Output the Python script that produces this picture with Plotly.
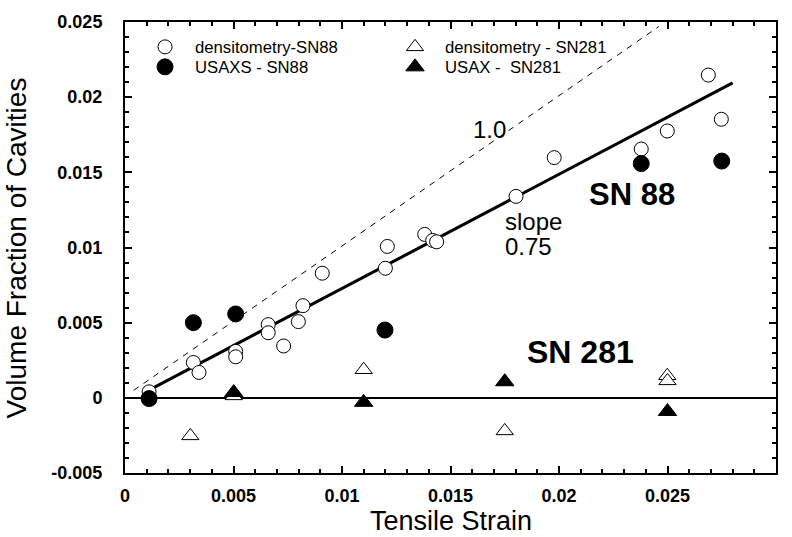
import plotly.graph_objects as go

# Densitometry, sample SN88 (open circles)
dens88_strain = [0.00111, 0.00315, 0.00341, 0.0051, 0.0051, 0.0066, 0.0066, 0.00731,
                 0.00799, 0.0082, 0.00909, 0.012, 0.01209, 0.01381, 0.01418, 0.01436,
                 0.01802, 0.01978, 0.02379, 0.02499, 0.02688, 0.02748]
dens88_vf = [0.0004, 0.00235, 0.00169, 0.00309, 0.00273, 0.00487, 0.00433, 0.00345,
             0.00507, 0.00613, 0.00829, 0.00862, 0.01007, 0.01087, 0.01047, 0.01038,
             0.0134, 0.01598, 0.01655, 0.01775, 0.02147, 0.01853]

# USAXS, sample SN88 (filled circles)
usaxs88_strain = [0.00111, 0.00315, 0.0051, 0.01198, 0.02379, 0.0275]
usaxs88_vf = [-0.00005, 0.005, 0.00558, 0.00451, 0.01558, 0.01575]

# Densitometry, sample SN281 (open triangles)
dens281_strain = [0.00301, 0.00501, 0.011, 0.0175, 0.02499, 0.025]
dens281_vf = [-0.00253, 0.00013, 0.00187, -0.0022, 0.00147, 0.00113]

# USAX, sample SN281 (filled triangles)
usax281_strain = [0.00501, 0.011, 0.0175, 0.025]
usax281_vf = [0.00035, -0.0003, 0.00107, -0.00091]

# Linear fit through SN88 (slope 0.75) and the 1:1 reference line
fit_strain = [0.00115, 0.028]
fit_vf = [0.00055, 0.02095]
unity_strain = [0.0004, 0.0246]
unity_vf = [0.0005, 0.0247]

x_ticks = [0, 0.005, 0.01, 0.015, 0.02, 0.025, 0.03]
x_ticktext = ["0", "0.005", "0.01", "0.015", "0.02", "0.025", "0.03"]
y_ticks = [-0.005, 0, 0.005, 0.01, 0.015, 0.02, 0.025]
y_ticktext = ["-0.005", "0", "0.005", "0.01", "0.015", "0.02", "0.025"]

FONT = "Liberation Sans, Arial, sans-serif"

fig = go.Figure()

fig.add_trace(go.Scatter(x=unity_strain, y=unity_vf, mode="lines",
                         line=dict(color="black", width=1, dash="6px,6px"),
                         showlegend=False, hoverinfo="skip"))
fig.add_trace(go.Scatter(x=fit_strain, y=fit_vf, mode="lines",
                         line=dict(color="black", width=3),
                         showlegend=False, hoverinfo="skip"))

fig.add_trace(go.Scatter(x=dens88_strain, y=dens88_vf, mode="markers",
                         name="densitometry-SN88", legend="legend", legendrank=1,
                         marker=dict(symbol="circle", size=14, color="white",
                                     line=dict(color="black", width=1))))
fig.add_trace(go.Scatter(x=dens281_strain, y=dens281_vf, mode="markers",
                         name="densitometry - SN281", legend="legend", legendrank=2,
                         marker=dict(symbol="triangle-up", size=15, color="white",
                                     line=dict(color="black", width=1))))
fig.add_trace(go.Scatter(x=usaxs88_strain, y=usaxs88_vf, mode="markers",
                         name="USAXS - SN88", legend="legend2", legendrank=1,
                         marker=dict(symbol="circle", size=16, color="black",
                                     line=dict(color="black", width=1))))
fig.add_trace(go.Scatter(x=usax281_strain, y=usax281_vf, mode="markers",
                         name="USAX -  SN281", legend="legend2", legendrank=2,
                         marker=dict(symbol="triangle-up", size=16, color="black",
                                     line=dict(color="black", width=1))))

annotations = [
    dict(x=0.01682, y=0.01787, text="1.0", font=dict(size=24)),
    dict(x=0.01742, y=0.01175, text="slope", xanchor="left", font=dict(size=24)),
    dict(x=0.01742, y=0.01005, text="0.75", xanchor="left", font=dict(size=24)),
    dict(x=0.02336, y=0.01353, text="<b>SN 88</b>", font=dict(size=31)),
    dict(x=0.02097, y=0.00307, text="<b>SN 281</b>", font=dict(size=32)),
]
for a in annotations:
    a.setdefault("xanchor", "center")
    a.update(xref="x", yref="y", showarrow=False, yanchor="middle")
    a["font"].update(family=FONT, color="black")

# axis titles
annotations += [
    dict(x=0.5, y=-0.1064, xref="paper", yref="paper", text="Tensile Strain",
         showarrow=False, xanchor="center", yanchor="middle",
         font=dict(family=FONT, size=27, color="black")),
    dict(x=-0.166, y=0.5, xref="paper", yref="paper", text="Volume Fraction of Cavities",
         showarrow=False, xanchor="center", yanchor="middle", textangle=-90,
         font=dict(family=FONT, size=28, color="black")),
]

axis_common = dict(
    showgrid=False, showline=True, linecolor="black", linewidth=2,
    mirror="allticks", ticks="inside", ticklen=7, tickwidth=1.5, tickcolor="black",
    tickfont=dict(family=FONT, size=18, color="black", weight="bold"),
    minor=dict(dtick=0.001, ticks="inside", ticklen=4, tickwidth=1.5, tickcolor="black"),
    automargin=False,
)

legend_common = dict(
    orientation="h", xanchor="left", yanchor="middle",
    itemwidth=50, entrywidth=185, bgcolor="rgba(0,0,0,0)",
    font=dict(family=FONT, size=16.7, color="black"),
)

fig.update_layout(
    width=792, height=537,
    margin=dict(l=125, r=16, t=22, b=64),
    paper_bgcolor="white", plot_bgcolor="white",
    font=dict(family=FONT, color="black"),
    annotations=annotations,
    legend=dict(x=0.0154, y=(473 - 47) / 451, **legend_common),
    legend2=dict(x=0.0154, y=(473 - 67) / 451, **legend_common),
    xaxis=dict(range=[0, 0.03], tickvals=x_ticks, ticktext=x_ticktext,
               zeroline=False, ticklabelstandoff=5, **axis_common),
    yaxis=dict(range=[-0.005, 0.025], tickvals=y_ticks, ticktext=y_ticktext,
               zeroline=True, zerolinecolor="black", zerolinewidth=1.5,
               ticklabelstandoff=17, **axis_common),
)

fig.write_html("out.html")
